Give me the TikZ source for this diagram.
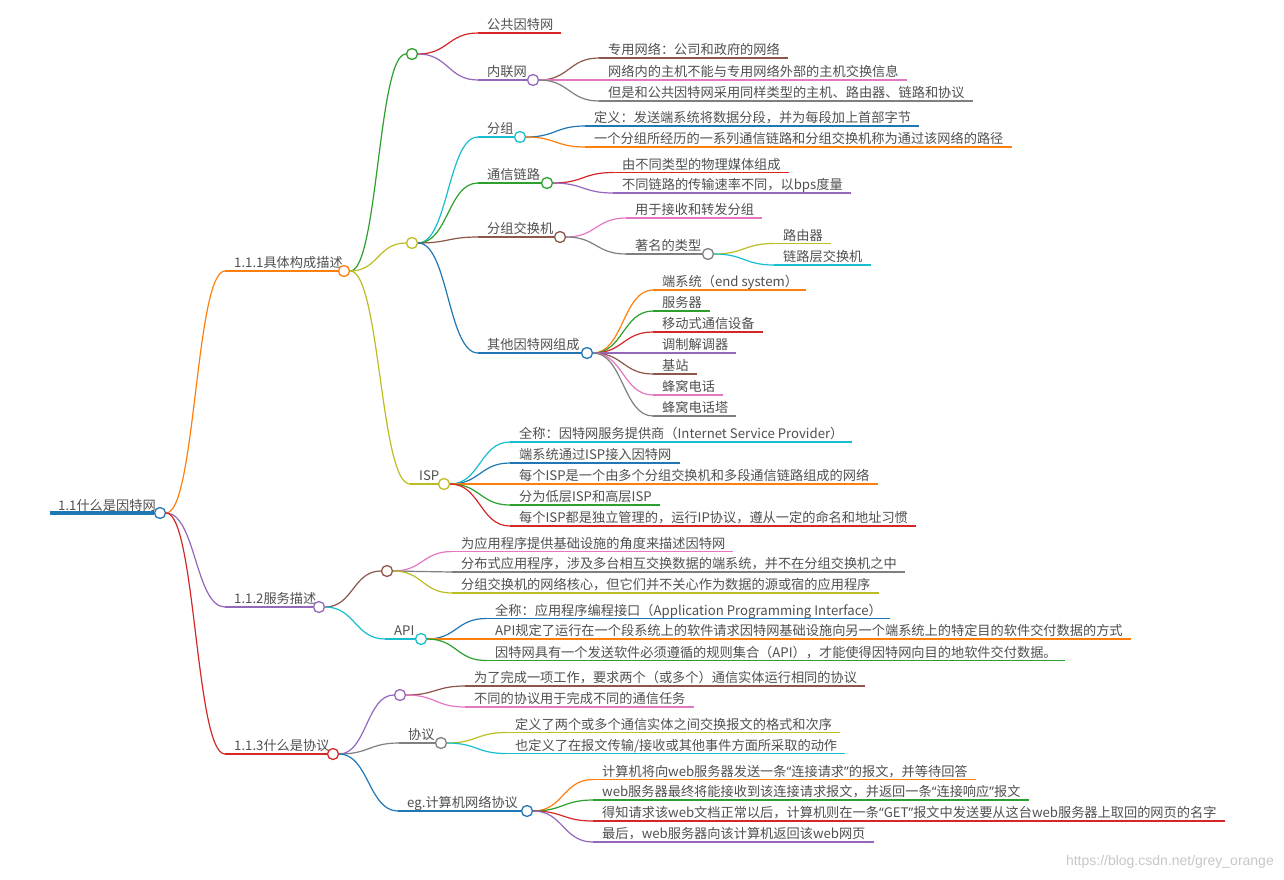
\documentclass[tikz,border=0pt]{standalone}
\usepackage{fontspec}
\setmainfont{Noto Sans CJK SC}
\newfontfamily\wmfont{Liberation Sans}
\newfontfamily\qfont{Noto Sans}
\usetikzlibrary{calc}
\definecolor{cBlue}{HTML}{1F77B4}
\definecolor{cOrange}{HTML}{FF7F0E}
\definecolor{cGreen}{HTML}{2CA02C}
\definecolor{cRed}{HTML}{D62728}
\definecolor{cPurple}{HTML}{9467BD}
\definecolor{cBrown}{HTML}{8C564B}
\definecolor{cPink}{HTML}{E377C2}
\definecolor{cGray}{HTML}{7F7F7F}
\definecolor{cOlive}{HTML}{BCBD22}
\definecolor{cCyan}{HTML}{17BECF}
\definecolor{txtgray}{HTML}{505050}
\newcommand\myLq{{\qfont “}}
\newcommand\myRq{{\qfont ”}}
\tikzset{
  txt/.style={inner sep=0pt, text=txtgray, font=\fontsize{13.2}{15}\selectfont, anchor=base west},
  edge/.style={line width=1.2pt},
  dot/.style={circle, draw, fill=white, line width=1.3pt, minimum size=11pt, inner sep=0pt},
}
% connector: S-curve with horizontal tangents
\newcommand\conn[3]{\draw[edge,#1] let \p1=(#2), \p2=(#3) in (\p1) .. controls ({0.5*\x1+0.5*\x2},\y1) and ({0.5*\x1+0.5*\x2},\y2) .. (\p2);}
% leaf: name, colour, parent anchor, text x, line y, text
\newcommand\leaf[6]{%
  \node[txt] (#1) at (#4,#5-3.5) {#6};
  \coordinate (#1s) at (#4-9,#5);
  \coordinate (#1e) at ($(#1.base east |- #1s)+(8,0)$);
  \draw[edge,#2] (#1s) -- (#1e);
  \conn{#2}{#3}{#1s}}
% inner node with text and circle: name, colour, parent anchor, text x, line y, circle x, text
\newcommand\midnode[7]{%
  \node[txt] (#1) at (#4,#5-3.5) {#7};
  \coordinate (#1s) at (#4-9,#5);
  \node[dot,draw=#2] (#1c) at (#6,#5) {};
  \draw[edge,#2] (#1s) -- (#1c.west);
  \conn{#2}{#3}{#1s}}
% inner node without text: name, colour, parent anchor, position
\newcommand\blanknode[4]{%
  \node[dot,draw=#2] (#1c) at (#4) {};
  \conn{#2}{#3}{#1c.west}}
\begin{document}
\begin{tikzpicture}[x=1pt,y=-1pt]
\fill[white] (0,0) rectangle (1284,879);
\useasboundingbox (0,0) rectangle (1284,879);

% root
\node[txt] (root) at (58,510) {1.1什么是因特网};
\coordinate (roots) at (50,513);
\node[dot,draw=cBlue] (rootc) at (160,513) {};
\draw[cBlue,line width=4pt] (roots) -- (rootc.west);

% level 1
\midnode{La}{cOrange}{rootc.east}{234}{271}{344}{1.1.1具体构成描述}
\midnode{Lb}{cPurple}{rootc.east}{234}{607}{319}{1.1.2服务描述}
\midnode{Lc}{cRed}{rootc.east}{234}{754}{333}{1.1.3什么是协议}

% 1.1.1 children
\blanknode{Ga}{cGreen}{Lac.east}{412,54}
\blanknode{Gb}{cOlive}{Lac.east}{412,243}
\midnode{isp}{cOlive}{Lac.east}{419}{484}{444}{ISP}

\leaf{gg1}{cRed}{Gac.east}{487}{33}{公共因特网}
\midnode{nl}{cPurple}{Gac.east}{487}{80}{533}{内联网}
\leaf{nl1}{cBrown}{nlc.east}{608}{58}{专用网络：公司和政府的网络}
\leaf{nl2}{cPink}{nlc.east}{608}{80}{网络内的主机不能与专用网络外部的主机交换信息}
\leaf{nl3}{cGray}{nlc.east}{608}{101}{但是和公共因特网采用同样类型的主机、路由器、链路和协议}

\midnode{fz}{cCyan}{Gbc.east}{487}{137}{520}{分组}
\midnode{tx}{cGreen}{Gbc.east}{487}{183}{547}{通信链路}
\midnode{jh}{cBrown}{Gbc.east}{487}{237}{560}{分组交换机}
\midnode{qt}{cBlue}{Gbc.east}{487}{353}{587}{其他因特网组成}

\leaf{fz1}{cBlue}{fzc.east}{594}{126}{定义：发送端系统将数据分段，并为每段加上首部字节}
\leaf{fz2}{cOrange}{fzc.east}{594}{147}{一个分组所经历的一系列通信链路和分组交换机称为通过该网络的路径}

\leaf{tx1}{cRed}{txc.east}{622}{172.5}{由不同类型的物理媒体组成}
\leaf{tx2}{cPurple}{txc.east}{622}{193}{不同链路的传输速率不同，以bps度量}

\leaf{jh1}{cPink}{jhc.east}{635}{218}{用于接收和转发分组}
\midnode{zm}{cGray}{jhc.east}{635}{254}{708}{著名的类型}
\leaf{zm1}{cOlive}{zmc.east}{783}{243.5}{路由器}
\leaf{zm2}{cCyan}{zmc.east}{783}{265}{链路层交换机}

\leaf{qt1}{cOrange}{qtc.east}{662}{290}{端系统（end system）}
\leaf{qt2}{cGreen}{qtc.east}{662}{311}{服务器}
\leaf{qt3}{cRed}{qtc.east}{662}{332}{移动式通信设备}
\leaf{qt4}{cPurple}{qtc.east}{662}{353}{调制解调器}
\leaf{qt5}{cBrown}{qtc.east}{662}{374}{基站}
\leaf{qt6}{cPink}{qtc.east}{662}{395}{蜂窝电话}
\leaf{qt7}{cGray}{qtc.east}{662}{416}{蜂窝电话塔}

\leaf{isp1}{cCyan}{ispc.east}{519}{442}{全称：因特网服务提供商（Internet Service Provider）}
\leaf{isp2}{cBlue}{ispc.east}{519}{463}{端系统通过ISP接入因特网}
\leaf{isp3}{cOrange}{ispc.east}{519}{484}{每个ISP是一个由多个分组交换机和多段通信链路组成的网络}
\leaf{isp4}{cGreen}{ispc.east}{519}{505}{分为低层ISP和高层ISP}
\leaf{isp5}{cRed}{ispc.east}{519}{526}{每个ISP都是独立管理的，运行IP协议，遵从一定的命名和地址习惯}

% 1.1.2 children
\blanknode{Gc}{cBrown}{Lbc.east}{387,571}
\midnode{api}{cCyan}{Lbc.east}{394}{639}{421}{API}
\leaf{gc1}{cPink}{Gcc.east}{461}{551.5}{为应用程序提供基础设施的角度来描述因特网}
\leaf{gc2}{cGray}{Gcc.east}{461}{572}{分布式应用程序，涉及多台相互交换数据的端系统，并不在分组交换机之中}
\leaf{gc3}{cOlive}{Gcc.east}{461}{593}{分组交换机的网络核心，但它们并不关心作为数据的源或宿的应用程序}
\leaf{api1}{cBlue}{apic.east}{495}{618.5}{全称：应用程序编程接口（Application Programming Interface）}
\leaf{api2}{cOrange}{apic.east}{495}{639}{API规定了运行在一个段系统上的软件请求因特网基础设施向另一个端系统上的特定目的软件交付数据的方式}
\leaf{api3}{cGreen}{apic.east}{495}{660.5}{因特网具有一个发送软件必须遵循的规则集合（API），才能使得因特网向目的地软件交付数据。}

% 1.1.3 children
\blanknode{Gd}{cPurple}{Lcc.east}{400,695}
\midnode{xy}{cGray}{Lcc.east}{408}{743}{441}{协议}
\midnode{eg}{cBlue}{Lcc.east}{407}{811}{527}{eg.计算机网络协议}
\leaf{gd1}{cBrown}{Gdc.east}{474}{686}{为了完成一项工作，要求两个（或多个）通信实体运行相同的协议}
\leaf{gd2}{cPink}{Gdc.east}{474}{707}{不同的协议用于完成不同的通信任务}
\leaf{xy1}{cOlive}{xyc.east}{515}{732.5}{定义了两个或多个通信实体之间交换报文的格式和次序}
\leaf{xy2}{cCyan}{xyc.east}{515}{753.5}{也定义了在报文传输/接收或其他事件方面所采取的动作}
\leaf{eg1}{cOrange}{egc.east}{602}{779.5}{计算机将向web服务器发送一条\myLq 连接请求\myRq 的报文，并等待回答}
\leaf{eg2}{cGreen}{egc.east}{602}{800}{web服务器最终将能接收到该连接请求报文，并返回一条\myLq 连接响应\myRq 报文}
\leaf{eg3}{cRed}{egc.east}{602}{821}{得知请求该web文档正常以后，计算机则在一条\myLq GET\myRq 报文中发送要从这台web服务器上取回的网页的名字}
\leaf{eg4}{cPurple}{egc.east}{602}{842}{最后，web服务器向该计算机返回该web网页}

% watermark
\node[inner sep=0pt, anchor=base east, text=black!22, font=\wmfont\fontsize{14}{16}\selectfont] (wm) at (1274,865) {https://blog.csdn.net/grey\_orange};
\end{tikzpicture}
\end{document}
